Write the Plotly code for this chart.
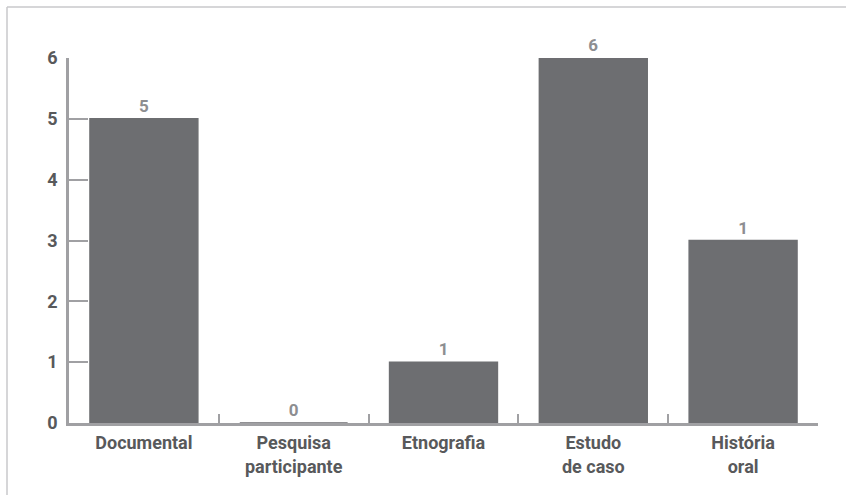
import plotly.graph_objects as go

# Categorias e valores
categorias = ["Documental", "Pesquisa<br>participante", "Etnografia", "Estudo<br>de caso", "História<br>oral"]
valores = [5, 0, 1, 6, 3]
rotulos = [5, 0, 1, 6, 1]
ticks_y = [0, 1, 2, 3, 4, 5, 6]

cor_barra = "#6d6e71"
cor_eixo = "#a0a0a3"
cor_texto = "#58595b"
cor_rotulo = "#8d8e91"

fig = go.Figure(
    go.Bar(
        x=categorias,
        y=valores,
        customdata=rotulos,
        texttemplate="%{customdata}",
        textposition="outside",
        cliponaxis=False,
        textfont=dict(family="Roboto", size=17, color=cor_rotulo, weight="bold"),
        marker=dict(color=cor_barra, line=dict(color=cor_barra, width=1.5)),
        hoverinfo="skip",
    )
)

fig.update_layout(
    width=846,
    height=495,
    margin=dict(l=69, r=28, t=58, b=72),
    paper_bgcolor="white",
    plot_bgcolor="white",
    bargap=0.28,
    showlegend=False,
    font=dict(family="Roboto", color=cor_texto),
)

fig.update_xaxes(
    type="category",
    range=[-0.5, 4.5],
    showline=True,
    linecolor=cor_eixo,
    linewidth=2.5,
    ticks="inside",
    tickson="boundaries",
    ticklen=9,
    tickwidth=2,
    tickcolor=cor_eixo,
    showgrid=False,
    ticklabelstandoff=2,
    tickfont=dict(family="Roboto", size=18, color=cor_texto, weight="bold"),
)

fig.update_yaxes(
    range=[0, 6],
    tickvals=ticks_y,
    showline=True,
    linecolor=cor_eixo,
    linewidth=2.5,
    ticks="inside",
    ticklen=19,
    tickwidth=2,
    tickcolor=cor_eixo,
    showgrid=False,
    zeroline=False,
    ticklabelstandoff=5,
    tickfont=dict(family="Roboto", size=18, color=cor_texto, weight="bold"),
)

# Moldura cinza clara (topo e lateral esquerda)
x0 = (7 - 69) / 749
y_topo = 1 + (58 - 7) / 365
y_base = (423 - 495) / 365
x_dir = (846 - 69) / 749
moldura = dict(color="#c9c9cb", width=1.5)
fig.add_shape(type="line", xref="paper", yref="paper", x0=x0, x1=x_dir, y0=y_topo, y1=y_topo, line=moldura)
fig.add_shape(type="line", xref="paper", yref="paper", x0=x0, x1=x0, y0=y_topo, y1=y_base, line=moldura)

fig.write_html("out.html")
